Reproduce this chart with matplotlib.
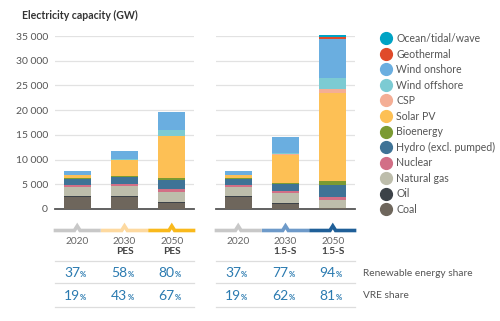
import matplotlib.pyplot as plt
from matplotlib.lines import Line2D
import numpy as np

plt.rcParams['font.family'] = ['Lato', 'DejaVu Sans']

techs = ['Coal', 'Oil', 'Natural gas', 'Nuclear', 'Hydro (excl. pumped)', 'Bioenergy',
         'Solar PV', 'CSP', 'Wind offshore', 'Wind onshore', 'Geothermal', 'Ocean/tidal/wave']
colors = ['#6e665c', '#3c4248', '#bdbdab', '#d26f86', '#3f7396', '#7b9a32',
          '#fdc055', '#f4ae95', '#7ccbd3', '#6aaee0', '#e04a2a', '#00a3c4']

# GW, one list per scenario, in the order of techs
pes_years = ['2020', '2030', '2050']
pes_sub = ['', 'PES', 'PES']
pes = [
    [2500, 200, 1750, 400, 1200, 130, 710, 6, 35, 700, 14, 1],
    [2350, 200, 2200, 400, 1300, 300, 3100, 20, 200, 1600, 20, 5],
    [1300, 100, 2100, 450, 1900, 350, 8600, 50, 1100, 3600, 50, 20],
]
ss_years = ['2020', '2030', '2050']
ss_sub = ['', '1.5-S', '1.5-S']
ss = [
    [2500, 200, 1750, 400, 1200, 130, 710, 6, 35, 700, 14, 1],
    [1100, 200, 1900, 400, 1400, 300, 5700, 50, 300, 3200, 30, 10],
    [200, 100, 1600, 500, 2400, 800, 17900, 700, 2300, 7900, 400, 350],
]
pes_re = ['37', '58', '80']
pes_vre = ['19', '43', '67']
ss_re = ['37', '77', '94']
ss_vre = ['19', '62', '81']
pes_marker = ['#c8c8c8', '#fdd9a0', '#f9b91c']
ss_marker = ['#c8c8c8', '#6e9ac9', '#1f5f98']

W, H = 500, 321
fig = plt.figure(figsize=(W / 100, H / 100), dpi=100)

def px_axes(x0, x1, ytop, ybot):
    return fig.add_axes([x0 / W, (H - ybot) / H, (x1 - x0) / W, (ybot - ytop) / H])

y0, y1 = 209, 36
ax_l = px_axes(55, 194, y1, y0)
ax_r = px_axes(216, 355, y1, y0)

def fy(ypx):
    # pixel row -> axes fraction
    return (y0 - ypx) / (y0 - y1)

def panel(ax, data, years, subs, re, vre, mk, show_ticks):
    data = np.array(data, dtype=float)
    x = np.arange(len(data))
    bottom = np.zeros(len(data))
    for i, t in enumerate(techs):
        ax.bar(x, data[:, i], 0.57, bottom=bottom, color=colors[i], lw=0, clip_on=False, zorder=3)
        bottom += data[:, i]
    ax.set_xlim(-0.47, 2.47)
    ax.set_ylim(0, 35000)
    ax.set_yticks(np.arange(0, 35001, 5000))
    ax.yaxis.grid(True, color='#e2e2e2', lw=0.9)
    ax.set_axisbelow(True)
    for s in ['top', 'right', 'left']:
        ax.spines[s].set_visible(False)
    ax.spines['bottom'].set_color('#555555')
    ax.spines['bottom'].set_linewidth(1.3)
    ax.set_xticks([])
    ax.tick_params(axis='y', length=0, pad=5, labelsize=7.5, labelcolor='#555555')
    if show_ticks:
        ax.set_yticklabels([f'{v:,}'.replace(',', ' ') for v in range(0, 35001, 5000)])
    else:
        ax.set_yticklabels([])
    tr = ax.get_xaxis_transform()
    for i in range(len(data)):
        xa, xb = i - 0.46, i + 0.46
        ax.plot([xa, i - 0.06, i, i + 0.06, xb], [fy(230.5), fy(230.5), fy(226), fy(230.5), fy(230.5)],
                transform=tr, color=mk[i], lw=2.6, clip_on=False, solid_joinstyle='miter')
        ax.text(i, fy(241), years[i], transform=tr, ha='center', va='center', fontsize=7.3, color='#666666')
        if subs[i]:
            ax.text(i, fy(252), subs[i], transform=tr, ha='center', va='center', fontsize=7.3,
                    color='#444444', fontweight='bold')
        for row, vals in ((272.7, re), (296, vre)):
            ax.text(i + 0.06, fy(row), vals[i], transform=tr, ha='right', va='center', fontsize=10,
                    color='#2a7ab0', fontstretch='condensed')
            ax.text(i + 0.06, fy(row + 1.5), '%', transform=tr, ha='left', va='center', fontsize=5.5,
                    color='#2a7ab0', fontweight='bold')
    for row in (260.7, 283.3, 306.7):
        ax.plot([-0.47, 2.47], [fy(row), fy(row)], transform=tr, color='#dddddd', lw=0.9, clip_on=False)

panel(ax_l, pes, pes_years, pes_sub, pes_re, pes_vre, pes_marker, True)
panel(ax_r, ss, ss_years, ss_sub, ss_re, ss_vre, ss_marker, False)

fig.text(22 / W, 1 - 15 / H, 'Electricity capacity (GW)', fontsize=7.6, fontweight='bold',
         color='#333333', va='center')
fig.text(363 / W, 1 - 273 / H, 'Renewable energy share', fontsize=7.3, color='#555555', va='center')
fig.text(363 / W, 1 - 296 / H, 'VRE share', fontsize=7.3, color='#555555', va='center')

handles = [Line2D([], [], ls='', marker='o', ms=8.5, mfc=c, mec=c) for c in colors][::-1]
fig.legend(handles, techs[::-1], loc='upper left', bbox_to_anchor=(381 / W, 1 - 33 / H),
           frameon=False, fontsize=7.6, labelcolor='#555555', handletextpad=0.45,
           labelspacing=0.43, handlelength=1.0, borderaxespad=0, borderpad=0)

fig.savefig('out.png', dpi=100)
